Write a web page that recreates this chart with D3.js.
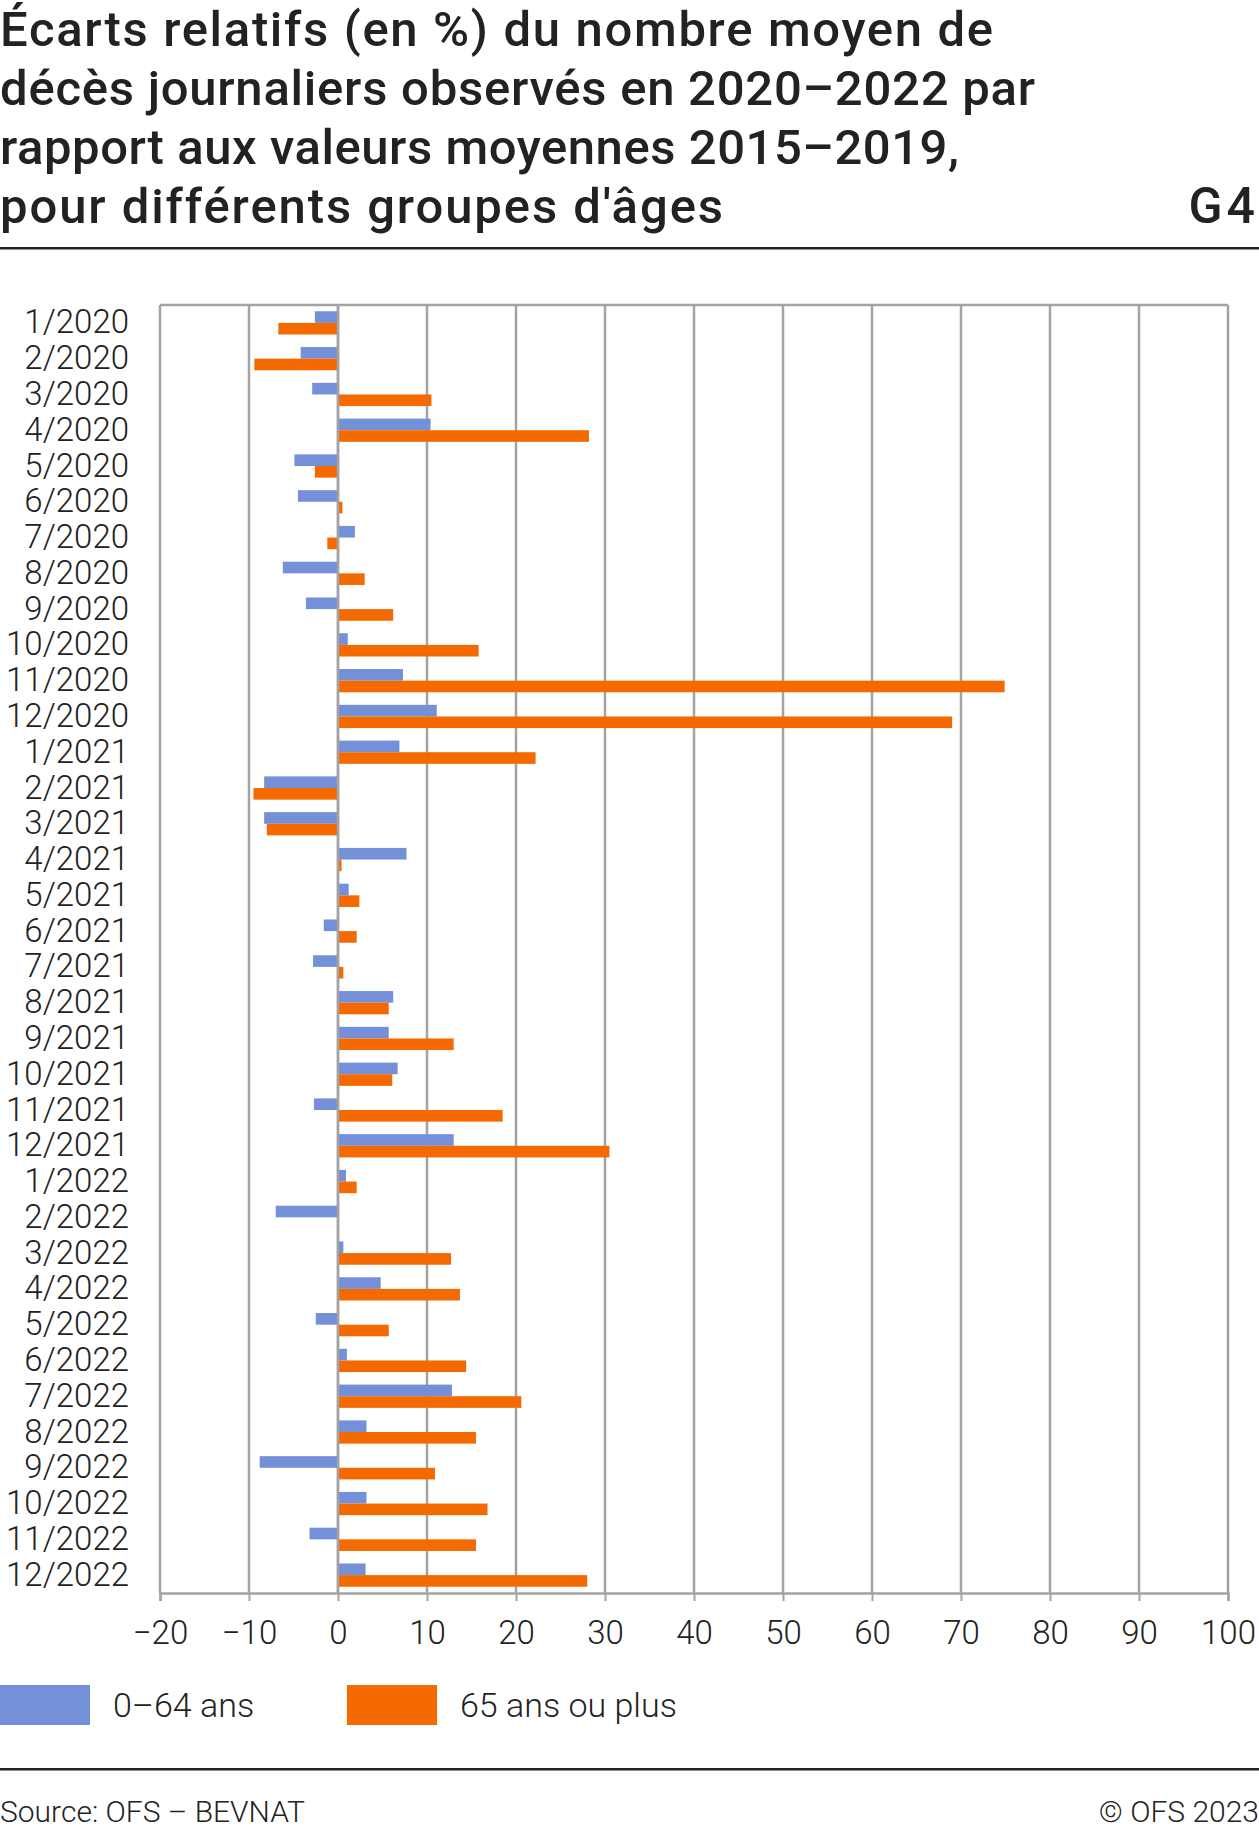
<!DOCTYPE html>
<html><head><meta charset="utf-8">
<script src="https://cdn.jsdelivr.net/npm/d3@7"></script>
<style>
body{margin:0;background:#fff;}
svg text{font-family:Roboto, "Noto Sans", sans-serif;fill:#222;}
</style>
</head><body>
<svg id="chart" width="1259" height="1829"></svg>
<script>
const categories = ["1/2020","2/2020","3/2020","4/2020","5/2020","6/2020","7/2020","8/2020","9/2020","10/2020","11/2020","12/2020",
  "1/2021","2/2021","3/2021","4/2021","5/2021","6/2021","7/2021","8/2021","9/2021","10/2021","11/2021","12/2021",
  "1/2022","2/2022","3/2022","4/2022","5/2022","6/2022","7/2022","8/2022","9/2022","10/2022","11/2022","12/2022"];
const seriesNames = ["0–64 ans","65 ans ou plus"];
const young = [-2.6,-4.2,-2.9,10.4,-4.9,-4.5,1.9,-6.2,-3.6,1.1,7.3,11.1,
  6.9,-8.3,-8.3,7.7,1.2,-1.6,-2.8,6.2,5.7,6.7,-2.7,13.0,
  0.9,-7.0,0.6,4.8,-2.5,1.0,12.8,3.2,-8.8,3.2,-3.2,3.1];
const old = [-6.7,-9.4,10.5,28.2,-2.6,0.5,-1.2,3.0,6.2,15.8,74.9,69.0,
  22.2,-9.5,-8.0,0.4,2.4,2.1,0.6,5.7,13.0,6.1,18.5,30.5,
  2.1,0,12.7,13.7,5.7,14.4,20.6,15.5,10.9,16.8,15.5,28.0];
const xTicks = [-20,-10,0,10,20,30,40,50,60,70,80,90,100];
const titleLines = ["Écarts relatifs (en %) du nombre moyen de",
  "décès journaliers observés en 2020–2022 par",
  "rapport aux valeurs moyennes 2015–2019,",
  "pour différents groupes d'âges"];
const titleWidths = [993, 1035, 959, 723];
const chartId = "G4";
const sourceText = "Source: OFS – BEVNAT";
const copyrightText = "© OFS 2023";
const colors = ["#7490d8","#f46a00"];

const svg = d3.select("#chart");
const W = 1259;

// Title
const title = svg.append("g");
title.selectAll("text").data(titleLines).join("text")
  .attr("x", 0).attr("y", (d,i) => 46 + i*59)
  .attr("textLength", (d,i) => titleWidths[i])
  .attr("lengthAdjust", "spacing")
  .style("font-size","49px").style("font-weight","500")
  .text(d => d);
svg.append("text").attr("x", W).attr("y", 46 + 3*59)
  .attr("text-anchor","end").style("font-size","50px").style("font-weight","500")
  .style("letter-spacing","4px")
  .text(chartId);
svg.append("rect").attr("x",0).attr("y",247).attr("width",W).attr("height",2.5).attr("fill","#222");

// Scales
const x = d3.scaleLinear().domain([-20,100]).range([160,1228]);
const y = d3.scaleBand().domain(categories).range([305,1593]).padding(0);
const groupH = y.bandwidth()*0.65;
const sub = d3.scaleBand().domain([0,1]).range([0, groupH]);
const off = (y.bandwidth()-groupH)/2;

const gridColor = "#a3a3a3";
// gridlines
svg.append("g").selectAll("line").data(xTicks).join("line")
  .attr("x1", d => x(d)).attr("x2", d => x(d))
  .attr("y1", y.range()[0]).attr("y2", y.range()[1])
  .attr("stroke", gridColor).attr("stroke-width", 2.5);
// top border
svg.append("line").attr("x1", x(-20)).attr("x2", x(100)).attr("y1",305).attr("y2",305)
  .attr("stroke", gridColor).attr("stroke-width", 2.5);

// bars
const series = [young, old];
series.forEach((vals, si) => {
  svg.append("g").selectAll("rect").data(vals).join("rect")
    .attr("x", d => x(Math.min(0,d)))
    .attr("width", d => Math.abs(x(d)-x(0)))
    .attr("y", (d,i) => y(categories[i]) + off + sub(si))
    .attr("height", sub.bandwidth())
    .attr("fill", colors[si]);
});
// zero line on top
svg.append("line").attr("x1", x(0)).attr("x2", x(0))
  .attr("y1", y.range()[0]).attr("y2", y.range()[1])
  .attr("stroke", gridColor).attr("stroke-width", 2.5);

// x axis
const xAxis = d3.axisBottom(x).tickValues(xTicks).tickSize(8).tickPadding(20);
const ax = svg.append("g").attr("transform", "translate(0,1593)").call(xAxis);
ax.select(".domain").attr("stroke", gridColor).attr("stroke-width", 2.5);
ax.selectAll(".tick line").attr("stroke", gridColor).attr("stroke-width", 2);
ax.selectAll(".tick text").attr("fill","#222")
  .style("font-family","Roboto, sans-serif").style("font-size","33px").style("font-weight","300");

// y labels
svg.append("g").selectAll("text").data(categories).join("text")
  .attr("x", 129).attr("y", d => y(d) + y.bandwidth()/2)
  .attr("dy","0.32em").attr("text-anchor","end")
  .style("font-size","33px").style("font-weight","300")
  .text(d => d);

// legend
const legX = [0, 347];
const leg = svg.append("g").selectAll("g").data(seriesNames).join("g")
  .attr("transform", (d,i) => `translate(${legX[i]},1685)`);
leg.append("rect").attr("width",90).attr("height",40).attr("fill",(d,i)=>colors[i]);
leg.append("text").attr("x",113).attr("y",20).attr("dy","0.36em")
  .style("font-size","34px").style("font-weight","300").text(d=>d);

// bottom rule and source
svg.append("rect").attr("x",0).attr("y",1768).attr("width",W).attr("height",2.5).attr("fill","#222");
svg.append("text").attr("x",0).attr("y",1822).style("font-size","30px").style("font-weight","300").text(sourceText);
svg.append("text").attr("x",W).attr("y",1822).attr("text-anchor","end").style("font-size","30px").style("font-weight","300").text(copyrightText);
</script>
</body></html>
